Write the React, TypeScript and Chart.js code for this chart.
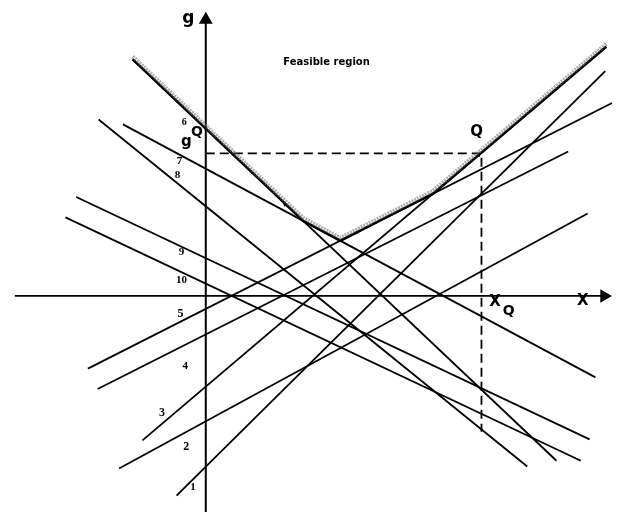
import React, { useEffect, useRef } from "react";
import { Chart, registerables } from "chart.js";

Chart.register(...registerables);

// Constraint lines g_i(x), given by their drawn end points (x, g)
const lineIds = ["1", "2", "3", "4", "5", "6", "7", "8", "9", "10"];
const lineStartX = [-3.0, -8.9, -6.5, -11.1, -12.1, -7.5, -8.5, -11.0, -13.3, -14.4];
const lineStartG = [-20.6, -17.8, -14.9, -9.6, -7.5, 24.4, 17.7, 18.2, 10.2, 8.1];
const lineEndX = [41.0, 39.2, 41.1, 37.2, 41.7, 36.0, 40.0, 33.0, 39.4, 38.5];
const lineEndG = [23.2, 8.5, 25.7, 14.9, 19.9, -17.0, -8.4, -17.6, -14.8, -17.0];

// Axes
const xAxisRange = [-19.6, 40.9];
const gAxisRange = [-22.3, 28.5];

// Design point Q
const pointQ = [28.3, 14.7];
const dashedBottomG = -14.0;

// Text labels
const labelTexts = ["g", "X", "Feasible region", "6", "Q", "g", "7", "8", "9", "10", "5", "4", "3", "2", "1", "Q", "X", "Q"];
const labelX = [-1.8, 38.7, 12.4, -2.2, -0.9, -2.0, -2.7, -2.9, -2.5, -2.5, -2.6, -2.1, -4.5, -2.0, -1.3, 27.8, 29.7, 31.1];
const labelG = [28.6, -0.5, 24.1, 17.9, 16.9, 15.9, 13.9, 12.5, 4.5, 1.6, -1.9, -7.2, -12.1, -15.6, -19.7, 16.9, -0.6, -1.6];
const labelFonts = [
  "bold 17px 'DejaVu Sans'", "bold 15px 'DejaVu Sans'", "bold 10px 'DejaVu Sans'",
  "bold 10px 'Liberation Serif'", "bold 14px 'DejaVu Sans'", "bold 15px 'DejaVu Sans'",
  "bold 11px 'Liberation Serif'", "bold 11px 'Liberation Serif'", "bold 11px 'Liberation Serif'",
  "bold 11px 'Liberation Serif'", "bold 12px 'Liberation Serif'", "bold 11px 'Liberation Serif'",
  "bold 12px 'Liberation Serif'", "bold 12px 'Liberation Serif'", "bold 11px 'Liberation Serif'",
  "bold 15px 'DejaVu Sans'", "bold 15px 'DejaVu Sans'", "bold 14px 'DejaVu Sans'",
];

const X_MIN = -20.3, X_MAX = 41.8, G_MIN = -22.7, G_MAX = 29.7;

function lineAt(i: number, x: number) {
  const s = (lineEndG[i] - lineStartG[i]) / (lineEndX[i] - lineStartX[i]);
  return lineStartG[i] + s * (x - lineStartX[i]);
}

function envelope() {
  const x0 = lineStartX[5];
  const x1 = lineEndX[2];
  const xs: number[] = [x0, x1];
  const n = lineIds.length;
  for (let i = 0; i < n; i++) {
    for (let j = i + 1; j < n; j++) {
      const si = (lineEndG[i] - lineStartG[i]) / (lineEndX[i] - lineStartX[i]);
      const sj = (lineEndG[j] - lineStartG[j]) / (lineEndX[j] - lineStartX[j]);
      if (Math.abs(si - sj) < 1e-9) continue;
      const bi = lineStartG[i] - si * lineStartX[i];
      const bj = lineStartG[j] - sj * lineStartX[j];
      const x = (bj - bi) / (si - sj);
      if (x > x0 && x < x1) xs.push(x);
    }
  }
  xs.sort((a, b) => a - b);
  return xs.map((x) => {
    let m = -Infinity;
    for (let i = 0; i < n; i++) m = Math.max(m, lineAt(i, x));
    return { x, y: m };
  });
}

const labelPlugin = {
  id: "labels",
  afterDatasetsDraw(chart: any) {
    const ctx = chart.ctx;
    const xs = chart.scales.x;
    const ys = chart.scales.y;
    ctx.save();
    ctx.fillStyle = "#000";
    ctx.textAlign = "center";
    ctx.textBaseline = "middle";
    labelTexts.forEach((t, i) => {
      ctx.font = labelFonts[i];
      ctx.fillText(t, xs.getPixelForValue(labelX[i]), ys.getPixelForValue(labelG[i]));
    });
    ctx.restore();
  },
};

export default function App() {
  const ref = useRef<HTMLCanvasElement>(null);
  useEffect(() => {
    if (!ref.current) return;
    const env = envelope();
    const lineSets = lineIds.map((id, i) => ({
      label: "g" + id,
      data: [
        { x: lineStartX[i], y: lineStartG[i] },
        { x: lineEndX[i], y: lineEndG[i] },
      ],
      showLine: true,
      borderColor: "#000",
      borderWidth: 1.8,
      pointRadius: 0,
    }));
    const chart = new Chart(ref.current, {
      type: "scatter",
      data: {
        datasets: [
          {
            label: "shade",
            data: env.map((p) => ({ x: p.x, y: p.y + 0.3 })),
            showLine: true,
            borderColor: "rgba(110,110,110,0.55)",
            borderWidth: 4,
            borderDash: [2, 1],
            pointRadius: 0,
          } as any,
          ...lineSets,
          {
            label: "envelope",
            data: env,
            showLine: true,
            borderColor: "#000",
            borderWidth: 2.6,
            pointRadius: 0,
          },
          {
            label: "xaxis",
            data: [
              { x: xAxisRange[0], y: 0 },
              { x: xAxisRange[1], y: 0 },
            ],
            showLine: true,
            borderColor: "#000",
            borderWidth: 1.8,
            pointRadius: [0, 6],
            pointStyle: "triangle",
            rotation: [0, 90],
            pointBackgroundColor: "#000",
            pointBorderColor: "#000",
          } as any,
          {
            label: "gaxis",
            data: [
              { x: 0, y: gAxisRange[0] },
              { x: 0, y: gAxisRange[1] },
            ],
            showLine: true,
            borderColor: "#000",
            borderWidth: 2,
            pointRadius: [0, 6],
            pointStyle: "triangle",
            rotation: [0, 0],
            pointBackgroundColor: "#000",
            pointBorderColor: "#000",
          } as any,
          {
            label: "gQ",
            data: [
              { x: 0, y: pointQ[1] },
              { x: pointQ[0], y: pointQ[1] },
              { x: pointQ[0], y: dashedBottomG },
            ],
            showLine: true,
            borderColor: "#000",
            borderWidth: 1.8,
            borderDash: [9, 5],
            pointRadius: 0,
          },
        ],
      },
      options: {
        animation: false,
        responsive: false,
        events: [],
        layout: { padding: 0 },
        plugins: { legend: { display: false }, tooltip: { enabled: false } },
        scales: {
          x: { type: "linear", min: X_MIN, max: X_MAX, display: false },
          y: { type: "linear", min: G_MIN, max: G_MAX, display: false },
        },
      },
      plugins: [labelPlugin],
    });
    return () => chart.destroy();
  }, []);
  return (
    <div style={{ position: "fixed", left: 0, top: 0, width: 621, height: 524, background: "#fff" }}>
      <canvas ref={ref} width={621} height={524} />
    </div>
  );
}
